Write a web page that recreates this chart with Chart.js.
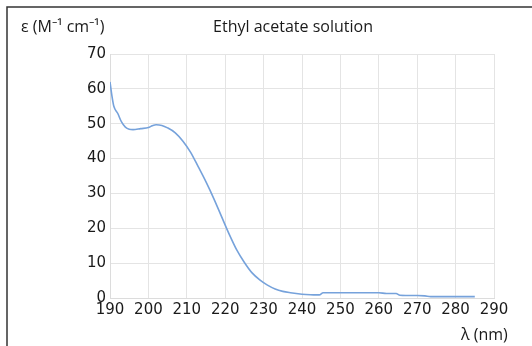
<!DOCTYPE html>
<html>
<head>
<meta charset="utf-8">
<script src="https://cdn.jsdelivr.net/npm/chart.js@4"></script>
<style>
  body { margin: 0; background: #fff; }
  #wrap { width: 532px; height: 346px; }
</style>
</head>
<body>
<div id="wrap"><canvas id="spectrum" width="532" height="346"></canvas></div>
<script>
// Absorption spectrum
const wavelengths = [190, 190.5, 191, 192, 193, 194, 195, 196, 198, 200, 201, 202, 203.5, 205, 207, 209, 211, 213, 215, 217, 219, 221, 223, 225, 227, 229, 231, 233, 235, 237, 239, 241, 243, 244.5, 245.5, 250, 255, 260, 262, 264.5, 265.5, 270, 272, 273.5, 280, 285];
const epsilon = [62, 58, 55, 53, 50.5, 49, 48.4, 48.3, 48.6, 48.9, 49.4, 49.7, 49.5, 48.8, 47.4, 45, 41.8, 37.6, 33.3, 28.6, 23.5, 18.4, 13.8, 10.2, 7.2, 5.2, 3.7, 2.6, 1.9, 1.5, 1.2, 1.0, 0.9, 0.9, 1.5, 1.5, 1.5, 1.5, 1.3, 1.3, 0.8, 0.7, 0.6, 0.4, 0.4, 0.4];

const xTicks = [190, 200, 210, 220, 230, 240, 250, 260, 270, 280, 290];
const yTicks = [0, 10, 20, 30, 40, 50, 60, 70];

const chartTitle = "Ethyl acetate solution";
const yTitle = "ε (M⁻¹ cm⁻¹)";
const xTitle = "λ (nm)";

const textColor = "#1a1a1a";
const tickFont = { family: "DejaVu Sans", size: 15 };

// Frame and titles
const decorPlugin = {
  id: "decor",
  afterDraw: (chart) => {
    const { ctx } = chart;
    ctx.save();
    ctx.strokeStyle = "#333";
    ctx.lineWidth = 1.5;
    ctx.beginPath();
    ctx.moveTo(7, 346);
    ctx.lineTo(7, 7);
    ctx.lineTo(532, 7);
    ctx.stroke();

    ctx.fillStyle = textColor;
    ctx.textBaseline = "middle";
    ctx.font = "16px 'Open Sans'";
    ctx.textAlign = "center";
    ctx.fillText(chartTitle, 293, 27);
    ctx.textAlign = "left";
    ctx.fillText(yTitle, 21, 27);
    ctx.fillText(xTitle, 461, 335);
    ctx.restore();
  },
};

const ctx = document.getElementById("spectrum").getContext("2d");

new Chart(ctx, {
  type: "line",
  data: {
    datasets: [
      {
        data: wavelengths.map((w, i) => ({ x: w, y: epsilon[i] })),
        borderColor: "#76a2db",
        borderWidth: 1.6,
        pointRadius: 0,
        tension: 0.3,
        cubicInterpolationMode: "monotone",
        fill: false,
      },
    ],
  },
  options: {
    responsive: false,
    animation: false,
    layout: { padding: { top: 54, right: 38, left: 0, bottom: 0 } },
    plugins: {
      legend: { display: false },
      tooltip: { enabled: false },
    },
    scales: {
      x: {
        type: "linear",
        min: 190,
        max: 290,
        afterBuildTicks: (axis) => {
          axis.ticks = xTicks.map((v) => ({ value: v }));
        },
        afterFit: (axis) => {
          axis.height = 48;
        },
        grid: { color: "#e4e4e4", drawTicks: false },
        border: { color: "#dcdcdc" },
        ticks: { color: textColor, font: tickFont, padding: 3, maxRotation: 0 },
      },
      y: {
        min: 0,
        max: 70,
        afterBuildTicks: (axis) => {
          axis.ticks = yTicks.map((v) => ({ value: v }));
        },
        afterFit: (axis) => {
          axis.width = 110;
        },
        grid: { color: "#e4e4e4", drawTicks: false },
        border: { color: "#dcdcdc" },
        ticks: { color: textColor, font: tickFont, padding: 4 },
      },
    },
  },
  plugins: [decorPlugin],
});
</script>
</body>
</html>
